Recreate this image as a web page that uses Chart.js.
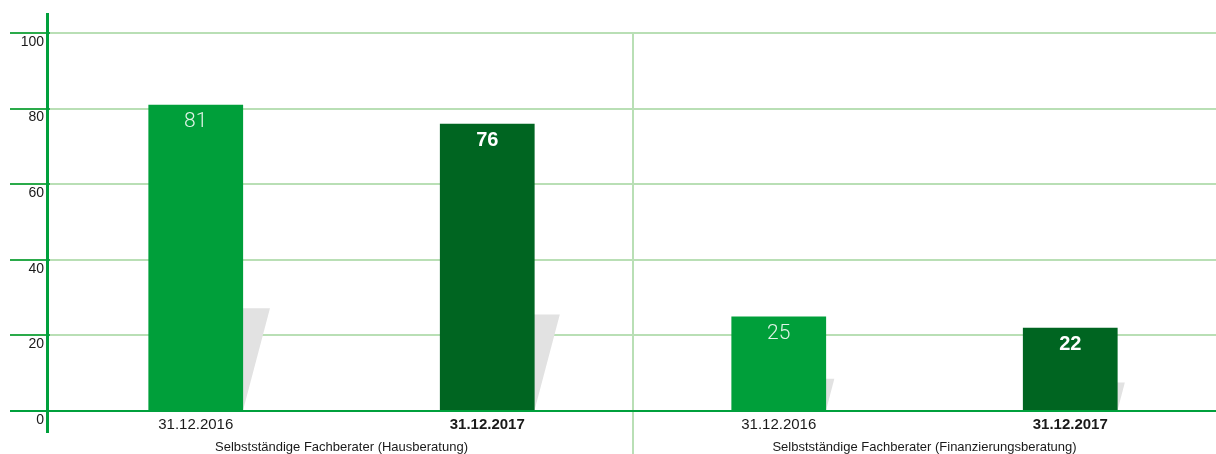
<!DOCTYPE html>
<html><head><meta charset="utf-8">
<script src="https://cdn.jsdelivr.net/npm/chart.js@4/dist/chart.umd.min.js"></script>
<style>html,body{margin:0;padding:0;background:#fff;}#wrap{width:1216px;height:454px;position:relative;}</style>
</head><body><div id="wrap"><canvas id="c"></canvas></div>
<script>
const groups = ['Selbstständige Fachberater (Hausberatung)', 'Selbstständige Fachberater (Finanzierungsberatung)'];
const dates = ['31.12.2016', '31.12.2017'];
const values2016 = [81, 25];
const values2017 = [76, 22];
const yTickValues = [0, 20, 40, 60, 80, 100];

const C16 = '#009f3a', C17 = '#006521';
const GRID = '#b9dfb5', AXIS = '#00a03c';
const FONT = "'Liberation Sans', Arial, sans-serif";

const categories = [], data = [], colors = [];
groups.forEach((g, i) => {
  categories.push(dates[0], dates[1]);
  data.push(values2016[i], values2017[i]);
  colors.push(C16, C17);
});

const decor = {
  id: 'decor',
  beforeDatasetsDraw(chart) {
    const ctx = chart.ctx, ca = chart.chartArea, xs = chart.scales.x;
    ctx.save();
    const dx = Math.round((xs.getPixelForValue(1) + xs.getPixelForValue(2)) / 2);
    ctx.strokeStyle = GRID; ctx.lineWidth = 2;
    ctx.beginPath(); ctx.moveTo(dx, ca.top); ctx.lineTo(dx, chart.height); ctx.stroke();
    const meta = chart.getDatasetMeta(0);
    ctx.fillStyle = '#e2e2e2';
    meta.data.forEach(b => {
      const xR = b.x + b.width / 2, h = b.base - b.y;
      const top = b.base - h / 3, w = h * 0.088;
      ctx.beginPath();
      ctx.moveTo(xR - 3, top); ctx.lineTo(xR + w, top); ctx.lineTo(xR, b.base); ctx.lineTo(xR - 3, b.base);
      ctx.closePath(); ctx.fill();
    });
    ctx.restore();
  },
  afterDatasetsDraw(chart) {
    const ctx = chart.ctx, ca = chart.chartArea;
    const meta = chart.getDatasetMeta(0);
    ctx.save();
    ctx.textAlign = 'center'; ctx.textBaseline = 'middle';
    meta.data.forEach((b, i) => {
      const bold = i % 2 === 1;
      ctx.font = (bold ? 'bold ' : '300 ') + (bold ? '20px ' : '21px ') + (bold ? FONT : "Roboto, 'Liberation Sans', sans-serif");
      ctx.fillStyle = bold ? '#ffffff' : 'rgba(255,255,255,0.88)';
      ctx.fillText(String(data[i]), b.x, b.y + 17);
    });
    ctx.strokeStyle = AXIS; ctx.lineWidth = 3;
    ctx.beginPath(); ctx.moveTo(ca.left - 2.5, ca.top - 20); ctx.lineTo(ca.left - 2.5, ca.bottom + 22); ctx.stroke();
    const y0 = chart.scales.y.getPixelForValue(0);
    ctx.lineWidth = 2;
    ctx.beginPath(); ctx.moveTo(10, y0); ctx.lineTo(ca.right, y0); ctx.stroke();
    ctx.restore();
  }
};

new Chart(document.getElementById('c'), {
  type: 'bar',
  data: {
    labels: categories,
    datasets: [{ data: data, backgroundColor: colors, borderWidth: 0, barPercentage: 0.325, categoryPercentage: 1 }]
  },
  options: {
    responsive: true, maintainAspectRatio: false, animation: false,
    layout: { padding: { top: 33, right: 0, bottom: 0, left: 0 } },
    plugins: { legend: { display: false }, tooltip: { enabled: false } },
    scales: {
      x: {
        grid: { display: false, drawTicks: false }, border: { display: false },
        ticks: {
          autoSkip: false, maxRotation: 0, padding: 5, color: '#1a1a1a',
          font: c => ({ family: FONT, size: 15, weight: c.index % 2 === 1 ? 'bold' : 'normal' })
        },
        afterFit: s => { s.height = 24; }
      },
      x2: {
        type: 'category', labels: groups, position: 'bottom', offset: true,
        grid: { display: false, drawTicks: false }, border: { display: false },
        ticks: { autoSkip: false, maxRotation: 0, padding: 5, color: '#1a1a1a', font: { family: FONT, size: 13 } },
        afterFit: s => { s.height = 19; }
      },
      y: {
        min: 0, max: 100,
        afterBuildTicks: s => { s.ticks = yTickValues.map(v => ({ value: v })); },
        grid: {
          color: c => (c.tick && c.tick.value === 0) ? AXIS : GRID,
          tickColor: '#2aaa4a', lineWidth: 2, tickWidth: 2, tickLength: 40, drawTicks: true
        },
        border: { display: false },
        ticks: { padding: -34, labelOffset: 9, color: '#1a1a1a', font: { family: FONT, size: 14 } },
        afterFit: s => { s.width = 50; }
      }
    }
  },
  plugins: [decor]
});
</script></body></html>
